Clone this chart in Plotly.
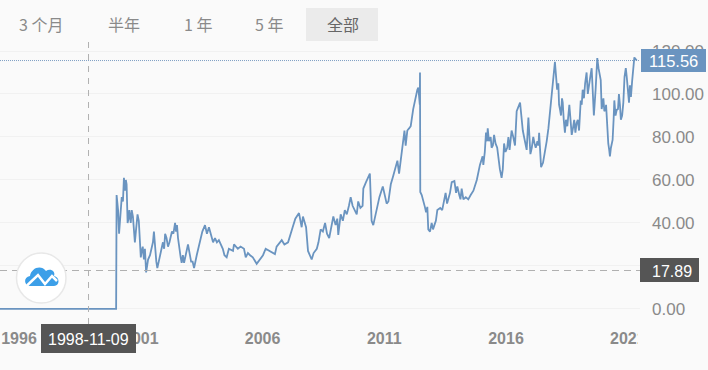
import pandas as pd
import plotly.graph_objects as go

W, H = 708, 370
L, R, T, B = 0, 640, 41, 324

BG = "#fafafa"
LINE = "#6a94c0"
GRAY = "#8a8a8a"
DARK = "#555555"
FONT = "Liberation Sans, Arial, sans-serif"
CJK = "Noto Sans CJK SC, sans-serif"

# Decimal year and price (main turning points)
years = [
    1995.0, 1999.99, 2000.01, 2000.11, 2000.22, 2000.31, 2000.42, 2000.46, 2000.53, 2000.59, 2000.68, 2000.76,
    2000.92, 2001.00, 2001.08, 2001.17, 2001.22, 2001.38, 2001.54, 2001.68, 2001.91, 2002.00, 2002.12, 2002.28,
    2002.41, 2002.49, 2002.57, 2002.68, 2002.78, 2002.94, 2003.02, 2003.19, 2003.43, 2003.64, 2003.72, 2003.80,
    2003.97, 2004.05, 2004.21, 2004.37, 2004.53, 2004.62, 2004.79, 2004.83, 2004.99, 2005.24, 2005.31, 2005.49,
    2005.76, 2006.02, 2006.13, 2006.51, 2006.58, 2006.79, 2007.05, 2007.24, 2007.50, 2007.61, 2007.66, 2007.79,
    2007.87, 2008.02, 2008.23, 2008.39, 2008.57, 2008.74, 2008.91, 2009.07, 2009.11, 2009.21, 2009.46, 2009.62,
    2009.80, 2009.93, 2010.11, 2010.14, 2010.35, 2010.41, 2010.48, 2010.62, 2010.71, 2010.94, 2011.03, 2011.17,
    2011.27, 2011.37, 2011.54, 2011.61, 2011.78, 2011.88, 2011.95, 2012.09, 2012.19, 2012.36, 2012.43, 2012.47,
    2012.48, 2012.54, 2012.67, 2012.77, 2012.81, 2012.95, 2013.06, 2013.18, 2013.45, 2013.52, 2013.63, 2013.77,
    2013.88, 2014.08, 2014.18, 2014.25, 2014.66, 2014.80, 2014.93, 2015.04, 2015.07, 2015.18, 2015.25, 2015.41,
    2015.51, 2015.64, 2015.68, 2015.82, 2015.92, 2016.05, 2016.23, 2016.37, 2016.44, 2016.58, 2016.69, 2016.85,
    2016.92, 2017.06, 2017.12, 2017.22, 2017.36, 2017.44, 2017.60, 2017.74, 2017.88, 2018.01, 2018.05, 2018.15,
    2018.22, 2018.33, 2018.42, 2018.60, 2018.70, 2018.90, 2019.00, 2019.07, 2019.15, 2019.20, 2019.31, 2019.41,
    2019.52, 2019.61, 2019.75, 2019.89, 2019.93, 2020.09, 2020.14, 2020.20, 2020.27, 2020.38, 2020.45, 2020.55,
    2020.64, 2020.72, 2020.82, 2020.92, 2021.01, 2021.13, 2021.23, 2021.27, 2021.37,
]
prices = [
    0, 0, 53, 35, 52, 61, 58, 40, 46, 40, 43, 31,
    41, 24, 29, 28, 17, 25, 36, 19, 31, 35, 29, 36,
    40, 39, 29, 21.5, 21.5, 30, 25, 19, 32, 39, 35, 38,
    31, 33, 32, 28, 24, 28, 27, 30, 28, 28, 24, 25,
    21, 25, 28, 25.5, 29, 32, 31, 38, 44.6, 38, 43, 38,
    27, 23, 28, 37, 40, 33, 43, 42, 34.4, 44, 44, 52,
    46, 50, 48, 56, 62, 63, 41, 43, 48, 57, 52, 50,
    58, 62, 69, 63, 80, 76, 83, 85, 93, 102, 96, 110,
    54.4, 53, 47.5, 47.5, 37, 40, 39, 46, 50, 54, 51, 59,
    59.5, 53, 56, 51, 55, 60, 67, 71, 67, 82, 84, 75,
    81, 75, 70, 61, 77, 75, 83, 76, 92, 96, 83, 74,
    89, 75, 80, 75, 82, 66, 72.6, 84, 100, 115, 107, 105,
    92.6, 96, 82, 95, 81, 86.5, 83, 97, 102, 98, 110, 103,
    112, 90, 116.7, 106.5, 93, 93, 87, 77, 71, 78.6, 97, 92.6,
    100, 88, 96, 112, 102, 98.6, 112.6, 117, 115.56,
]
# Smaller wiggles between those turning points
detail_years = [
    2000.07, 2000.27, 2000.29, 2000.36, 2000.39, 2000.44, 2000.50, 2000.63, 2000.72, 2000.80, 2000.87, 2000.96,
    2001.04, 2001.13, 2001.30, 2001.45, 2001.50, 2001.60, 2001.64, 2001.75, 2001.83, 2001.96, 2002.06, 2002.18,
    2002.34, 2002.45, 2002.53, 2002.64, 2002.73, 2002.86, 2003.07, 2003.13, 2003.30, 2003.53, 2003.90, 2004.13,
    2004.44, 2005.10, 2005.40, 2005.60, 2005.88, 2006.30, 2006.90, 2007.35, 2007.95, 2008.10, 2008.30, 2008.48,
    2008.65, 2009.00, 2009.30, 2009.38, 2009.55, 2009.70, 2009.87, 2010.02, 2010.25, 2010.45, 2010.55, 2010.80,
    2011.10, 2011.45, 2011.70, 2011.83, 2012.02, 2012.27, 2012.33, 2012.40, 2012.46, 2012.62, 2012.72, 2012.88,
    2013.00, 2013.12, 2013.30, 2013.38, 2013.58, 2013.70, 2013.95, 2014.00, 2014.13, 2014.35, 2014.45, 2014.55,
    2015.13, 2015.22, 2015.30, 2015.37, 2015.46, 2015.57, 2015.75, 2015.87, 2015.98, 2016.10, 2016.15, 2016.30,
    2016.63, 2016.78, 2016.96, 2017.00, 2017.17, 2017.29, 2017.33, 2017.52, 2017.67, 2017.81, 2017.97, 2018.03,
    2018.10, 2018.18, 2018.26, 2018.30, 2018.37, 2018.46, 2018.52, 2018.65, 2018.75, 2018.80, 2018.85, 2018.95,
    2019.11, 2019.25, 2019.36, 2019.46, 2019.57, 2019.68, 2019.80, 2020.00, 2020.04, 2020.11, 2020.24, 2020.31,
    2020.42, 2020.50, 2020.60, 2020.68, 2020.77, 2020.87, 2020.96, 2021.05, 2021.09, 2021.18,
]
detail_prices = [
    46, 50, 58, 55, 60, 48, 42, 46, 38, 36, 44, 33,
    27, 23, 23, 28, 31, 25, 22, 23, 28, 28, 33, 31,
    35, 36, 33, 24, 25, 26, 22, 22, 25, 36, 34, 31,
    25, 29, 26, 24, 23, 27, 30, 42, 25, 26, 31, 36,
    35, 39, 41, 46, 48, 48, 44, 47, 59, 50, 39, 52,
    49, 65, 72, 83, 84, 98, 100, 103, 95, 50, 45, 36,
    37, 41, 47, 46, 49, 54, 54, 57, 51, 52, 51, 53,
    73, 78, 78, 80, 76, 77, 65, 65, 73, 80, 74, 80,
    90, 78, 80, 72, 77, 78, 76, 68, 78, 92, 110, 112,
    102, 95, 90, 98, 88, 88, 85, 88, 84, 88, 82, 88,
    95, 105, 100, 108, 96, 102, 112, 98, 92, 95, 74, 75,
    88, 90, 93, 95, 90, 108, 108, 96, 104, 106,
]
x_tick_years = [1996, 2001, 2006, 2011, 2016, 2021]
y_ticks = [0, 20, 40, 60, 80, 100, 120]
y_tick_labels = ["0.00", "", "40.00", "60.00", "80.00", "100.00", "120.00"]
tabs = ["3 个月", "半年", "1 年", "5 年", "全部"]
last_price = 115.56
cross_price = 17.89
cross_date = "1998-11-09"


def to_date(y):
    yr = int(y)
    start = pd.Timestamp(yr, 1, 1)
    return (start + pd.Timedelta(days=(y - yr) * 365.25)).strftime("%Y-%m-%d")


def px(x):
    return (x - L) / (R - L)


def py(y):
    return 1 - (y - T) / (B - T)


def rect(x0, y0, x1, y1, **kw):
    return dict(type="rect", xref="paper", yref="paper", x0=px(x0), x1=px(x1),
                y0=py(y1), y1=py(y0), layer="above", **kw)


def label(text, x, y, size, color, family=FONT, anchor="center"):
    return dict(text=text, xref="paper", yref="paper", x=px(x), y=py(y), xanchor=anchor,
                yanchor="middle", showarrow=False, font=dict(size=size, color=color, family=family))


def path(points):
    s = ""
    for p in points:
        if isinstance(p, str):
            s += p + " "
        else:
            s += f"{px(p[0]):.5f},{py(p[1]):.5f} "
    return s.strip()


merged = sorted(zip(years + detail_years, prices + detail_prices))

fig = go.Figure(go.Scatter(
    x=[to_date(p[0]) for p in merged], y=[p[1] for p in merged], mode="lines",
    line=dict(color=LINE, width=1.8), hoverinfo="skip"))

shapes = [
    # last-price dotted line and crosshair
    dict(type="line", xref="paper", yref="y", x0=0, x1=1, y0=last_price, y1=last_price,
         line=dict(color="#7f9fc4", width=1, dash="1px,1px"), layer="below"),
    dict(type="line", xref="paper", yref="y", x0=0, x1=1, y0=cross_price, y1=cross_price,
         line=dict(color="#b0b0b0", width=1, dash="7px,5px"), layer="above"),
    dict(type="line", xref="x", yref="paper", x0=cross_date, x1=cross_date, y0=0, y1=1,
         line=dict(color="#b0b0b0", width=1, dash="6px,6px"), layer="above"),
    # tab highlight
    rect(306, 8, 378, 41, fillcolor="#ebebeb", line_width=0),
    # clip for the last x label
    rect(638, 326, 708, 360, fillcolor=BG, line_width=0),
    # value and date flags
    rect(641, 49, 706, 72, fillcolor=LINE, line_width=0),
    rect(640, 258, 699, 282, fillcolor=DARK, line_width=0),
    rect(41, 324, 136, 353, fillcolor=DARK, line_width=0),
    # logo
    dict(type="circle", xref="paper", yref="paper", x0=px(16.5), x1=px(66), y0=py(303), y1=py(253),
         fillcolor="#ffffff", line=dict(color="#e8e8e8", width=1.5), layer="above"),
    dict(type="path", xref="paper", yref="paper", layer="above", fillcolor="#3c9fe8", line_width=0,
         path=path(["M", (30, 286), "C", (24, 286), (23, 277), (30, 276), "C", (31, 268), (41, 264), (46, 271),
                    "C", (50, 268), (56, 271), (54, 276), "C", (60, 277), (60, 286), (54, 286), "Z"])),
    dict(type="path", xref="paper", yref="paper", layer="above", line=dict(color="#ffffff", width=2.5),
         path=path(["M", (27, 285.5), "L", (38, 275), "L", (45, 284), "L", (52, 276), "L", (57, 281)])),
]

annotations = [
    label(tabs[0], 41, 24, 16, GRAY, CJK),
    label(tabs[1], 123.5, 24, 16, GRAY, CJK),
    label(tabs[2], 197.5, 24, 16, GRAY, CJK),
    label(tabs[3], 269, 24, 16, GRAY, CJK),
    label(tabs[4], 343, 24, 16, "#666666", CJK),
    label(f"{last_price:.2f}", 673.5, 61, 16.5, "#ffffff"),
    label(f"{cross_price:.2f}", 672, 271, 16, "#ffffff"),
    label(cross_date, 88.5, 339, 16, "#ffffff"),
]

y_bottom = -7
y_top = 124.65

fig.update_layout(
    width=W, height=H, autosize=False,
    margin=dict(l=L, r=W - R, t=T, b=H - B),
    paper_bgcolor=BG, plot_bgcolor=BG,
    showlegend=False, shapes=shapes, annotations=annotations,
    xaxis=dict(
        type="date", range=[to_date(1995.22), to_date(1995.22 + 640 / 24.35)],
        tickvals=[f"{y}-01-01" for y in x_tick_years], ticktext=[str(y) for y in x_tick_years],
        showgrid=False, zeroline=False, showline=False, ticks="",
        tickfont=dict(family=FONT, size=16, color=GRAY, weight="bold"), ticklabelstandoff=3),
    yaxis=dict(
        side="right", range=[y_bottom, y_top], tickvals=y_ticks, ticktext=y_tick_labels,
        showgrid=True, gridcolor="#f1f1f1", gridwidth=1, zeroline=False, showline=False, ticks="",
        tickfont=dict(family=FONT, size=17, color=GRAY), ticklabelstandoff=11),
)

fig.write_html("out.html", config=dict(displayModeBar=False),
               post_script="document.body.style.margin='0';document.body.style.background='#fafafa';")
